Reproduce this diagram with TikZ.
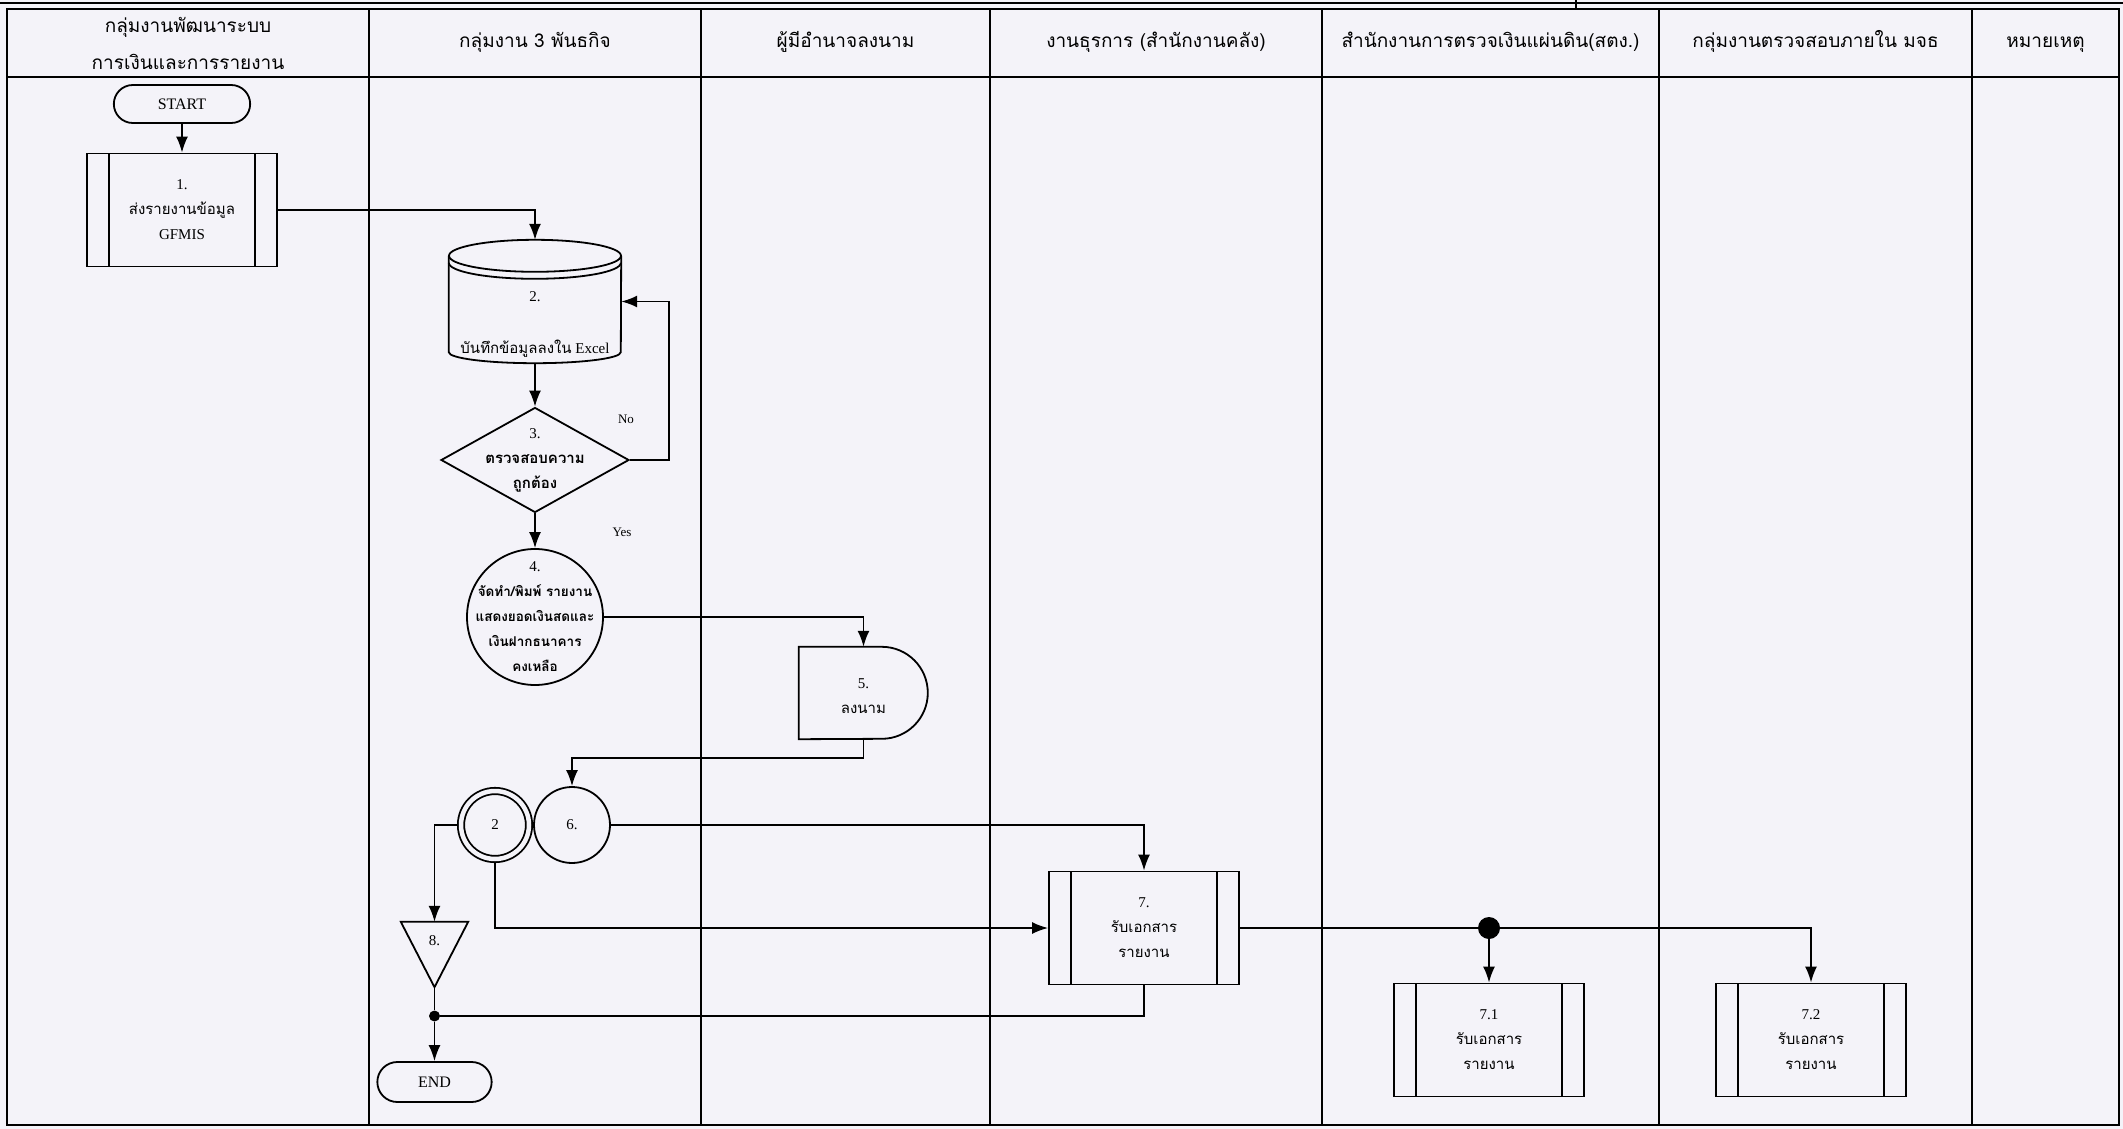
\documentclass[tikz,border=0pt]{standalone}
\usepackage{fontspec}
\setmainfont{Liberation Serif}
\newfontfamily\thfont[Script=Thai]{Loma}
\usepackage{tikz}
\usetikzlibrary{shapes}
\usetikzlibrary{arrows.meta}
\usetikzlibrary{calc}
\definecolor{paper}{RGB}{244,243,249}
\tikzstyle{ln}=[line width=1.8pt]
\tikzstyle{arr}=[-{Latex[length=16pt,width=12pt]}]
\tikzstyle{txt}=[align=center, inner sep=0pt, font=\fontsize{15pt}{25pt}\selectfont]
\tikzstyle{head}=[align=center, font=\thfont\fontsize{19pt}{37pt}\selectfont]
\tikzstyle{term}=[rounded rectangle, draw, ln, minimum width=143pt, minimum height=38pt, font=\fontsize{16pt}{19pt}\selectfont]
\tikzstyle{subproc}=[rectangle, draw, ln, txt, minimum width=190pt, minimum height=113pt,
	path picture={\draw[ln] ([xshift=22pt]path picture bounding box.north west) -- ([xshift=22pt]path picture bounding box.south west);
	\draw[ln] ([xshift=-22pt]path picture bounding box.north east) -- ([xshift=-22pt]path picture bounding box.south east);}]
\tikzstyle{decis}=[diamond, draw, ln, minimum width=188pt, minimum height=105pt, inner sep=0pt]
\tikzstyle{conn}=[circle, draw, ln, txt, minimum size=76pt]
\tikzstyle{jdot}=[circle, fill=black, inner sep=0pt]
\tikzstyle{lbl}=[font=\fontsize{13pt}{15pt}\selectfont]

\begin{document}
\begin{tikzpicture}[x=1pt,y=-1pt]
\fill[paper] (0,0) rectangle (2123,1129);
\useasboundingbox (0,0) rectangle (2123,1129);
\draw[line width=1.2pt] (0,3) -- (2123,3);
\draw[line width=1.2pt] (1576,0) -- (1576,9);
\draw[line width=2.2pt] (7,9) rectangle (2119,1125);
\draw[line width=2.2pt] (7,77) -- (2119,77);
\foreach \x in {369,701,990,1322,1659,1972} {
	\draw[line width=1.5pt] (\x,9) -- (\x,1125);
}
\node[head] (h1) at (188,43) {กลุ่มงานพัฒนาระบบ\\การเงินและการรายงาน};
\foreach \x/\t [count=\i from 2] in {535/{กลุ่มงาน 3 พันธกิจ}, 845.5/{ผู้มีอำนาจลงนาม}, 1156/{งานธุรการ (สำนักงานคลัง)}, 1490.5/{สำนักงานการตรวจเงินแผ่นดิน(สตง.)}, 1815.5/{กลุ่มงานตรวจสอบภายใน มจธ}, 2045.5/{หมายเหตุ}} {
	\node[head, anchor=base] (h\i) at (\x,48) {\t};
}

\node[term] (n0) at (182,104) {START};
\node[subproc] (n1) at (182,210) {1.\\{\thfont ส่งรายงานข้อมูล}\\GFMIS};

\node[minimum width=172pt, minimum height=123pt, inner sep=0pt] (n2) at (535,301.5) {};
\draw[ln] ($(n2.north west)+(0,16)$) -- ($(n2.south west)+(0,-11)$) arc (180:0:86 and 11) -- ($(n2.north east)+(0,16)$);
\draw[ln] ($(n2.north)+(0,16)$) ellipse (86 and 16);
\draw[ln] ($(n2.north west)+(0,23)$) arc (180:0:86 and 16);
\node[txt] (t2) at (535,324) {2.\\[27pt]{\thfont บันทึกข้อมูลลงใน} Excel};

\node[decis] (n3) at (535,460) {};
\node[txt] (t3) at (n3) {3.\\{\thfont\bfseries ตรวจสอบความ}\\{\thfont\bfseries ถูกต้อง}};
\node[lbl] (no) at (626,419) {No};
\node[lbl] (yes) at (622,532) {Yes};

\node[circle, draw, ln, minimum size=136pt, inner sep=0pt] (n4) at (535,617) {};
\node[txt] (t4) at (n4) {4.\\{\thfont\bfseries\fontsize{13.5pt}{25pt}\selectfont จัดทำ/พิมพ์ รายงาน}\\{\thfont\bfseries\fontsize{13.5pt}{25pt}\selectfont แสดงยอดเงินสดและ}\\{\thfont\bfseries\fontsize{13.5pt}{25pt}\selectfont เงินฝากธนาคาร}\\{\thfont\bfseries\fontsize{13.5pt}{25pt}\selectfont คงเหลือ}};

\node[minimum width=129pt, minimum height=92pt, inner sep=0pt] (n5) at (863.5,693) {};
\draw[ln] (n5.north west) -- ++(83,0) arc (-90:90:46) -- (n5.south west) -- cycle;
\node[txt] (t5) at ([yshift=-3pt]n5.center) {5.\\{\thfont ลงนาม}};

\node[conn, minimum size=68pt, double=paper, double distance=4.5pt, outer sep=4pt] (n2c) at (495,825) {2};
\node[conn] (n6) at (572,825) {6.};

\node[subproc] (n7) at (1144,928) {7.\\{\thfont รับเอกสาร}\\{\thfont รายงาน}};

\node[minimum width=67pt, minimum height=65pt, inner sep=0pt] (n8) at (434.5,954.5) {};
\draw[ln] (n8.north west) -- (n8.north east) -- (n8.south) -- cycle;
\node[txt] (t8) at ([yshift=14pt]n8.center) {8.};
\node[jdot, minimum size=11pt] (j1) at (434.5,1016) {};
\node[term, minimum width=121pt, minimum height=40pt] (n9) at (434.5,1082) {END};

\node[jdot, minimum size=22pt] (j2) at (1489,928) {};
\node[subproc] (n71) at (1489,1040) {7.1\\{\thfont รับเอกสาร}\\{\thfont รายงาน}};
\node[subproc] (n72) at (1811,1040) {7.2\\{\thfont รับเอกสาร}\\{\thfont รายงาน}};

\draw[ln,arr] (n0) -- (n1);
\draw[ln,arr] (n1.east) -| (n2.north);
\draw[ln,arr] (n2.south) -- (n3.north);
\draw[ln,arr] (n3.east) -- ++(39,0) |- (n2.east);
\draw[ln,arr] (n3.south) -- (n4.north);
\draw[ln,arr] (n4.east) -| (n5.north);
\draw[ln,arr] (n5.south) -- ++(0,19) -| (n6.north);
\draw[ln,arr] (n6.east) -| (n7.north);
\draw[ln,arr] (n2c.south) |- (n7.west);
\draw[ln,arr] (n2c.west) -| (n8.north);
\draw[ln] (n8.south) -- (j1);
\draw[ln,arr] (j1) -- (n9.north);
\draw[ln] (n7.south) |- (j1);
\draw[ln] (n7.east) -- (j2);
\draw[ln,arr] (j2) -- (n71.north);
\draw[ln,arr] (j2) -| (n72.north);
\end{tikzpicture}
\end{document}
